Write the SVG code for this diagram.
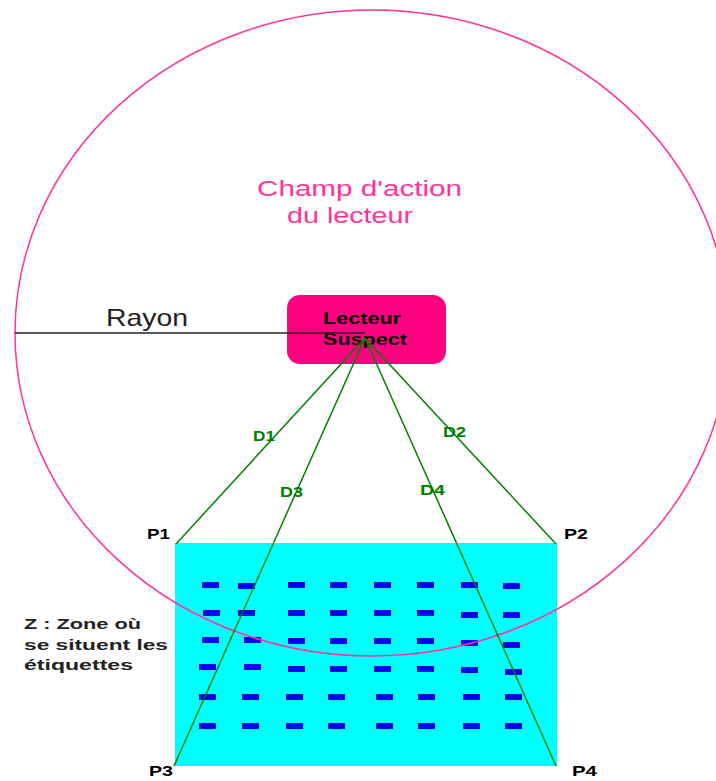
<svg xmlns="http://www.w3.org/2000/svg" width="716" height="781" viewBox="0 0 716 781">
<style>
.t{font-family:"Liberation Sans",Arial,sans-serif}
.pink{fill:#ff3399;font-size:22px}
.ray{fill:#222;font-size:24px}
.lec{fill:#000;font-size:16px;font-weight:bold}
.d{fill:#008000;font-size:15px;font-weight:bold}
.p{fill:#000;font-size:15px;font-weight:bold}
.z{fill:#222;font-size:15px;font-weight:bold}
.dash{fill:#0000ee}
.g{stroke:#008000;stroke-width:1.5;fill:none}
</style>
<defs>
<rect id="dsh" class="dash" width="17" height="6"/>
</defs>
<rect width="716" height="781" fill="#fff"/>
<g id="zone">
<rect x="175" y="543" width="382" height="223" fill="#00ffff"/>
<g id="tags">
<use href="#dsh" x="202" y="582"/><use href="#dsh" x="238" y="583"/><use href="#dsh" x="288" y="582"/><use href="#dsh" x="330" y="582"/><use href="#dsh" x="374" y="582"/><use href="#dsh" x="417" y="582"/><use href="#dsh" x="461" y="582"/><use href="#dsh" x="503" y="583"/>
<use href="#dsh" x="203" y="610"/><use href="#dsh" x="238" y="610"/><use href="#dsh" x="288" y="610"/><use href="#dsh" x="330" y="610"/><use href="#dsh" x="374" y="610"/><use href="#dsh" x="417" y="610"/><use href="#dsh" x="461" y="612"/><use href="#dsh" x="503" y="612"/>
<use href="#dsh" x="202" y="637"/><use href="#dsh" x="244" y="637"/><use href="#dsh" x="288" y="638"/><use href="#dsh" x="330" y="638"/><use href="#dsh" x="374" y="638"/><use href="#dsh" x="417" y="638"/><use href="#dsh" x="461" y="640"/><use href="#dsh" x="503" y="642"/>
<use href="#dsh" x="199" y="664"/><use href="#dsh" x="244" y="664"/><use href="#dsh" x="288" y="666"/><use href="#dsh" x="330" y="666"/><use href="#dsh" x="374" y="666"/><use href="#dsh" x="417" y="666"/><use href="#dsh" x="461" y="667"/><use href="#dsh" x="505" y="669"/>
<use href="#dsh" x="199" y="694"/><use href="#dsh" x="242" y="694"/><use href="#dsh" x="286" y="694"/><use href="#dsh" x="328" y="694"/><use href="#dsh" x="376" y="694"/><use href="#dsh" x="418" y="694"/><use href="#dsh" x="463" y="694"/><use href="#dsh" x="505" y="694"/>
<use href="#dsh" x="199" y="723"/><use href="#dsh" x="242" y="723"/><use href="#dsh" x="286" y="723"/><use href="#dsh" x="328" y="723"/><use href="#dsh" x="376" y="723"/><use href="#dsh" x="418" y="723"/><use href="#dsh" x="463" y="723"/><use href="#dsh" x="505" y="723"/>
</g>
</g>
<g id="champ">
<ellipse cx="372" cy="333" rx="357" ry="323" fill="none" stroke="#ff3399" stroke-width="1.5"/>
<text class="t pink" x="257" y="196" textLength="205" lengthAdjust="spacingAndGlyphs">Champ d'action</text>
<text class="t pink" x="287" y="223" textLength="126" lengthAdjust="spacingAndGlyphs">du lecteur</text>
</g>
<g id="lecteur">
<rect x="287" y="295" width="159" height="69" rx="13" fill="#ff0080"/>
<text class="t lec" x="323" y="324" textLength="78" lengthAdjust="spacingAndGlyphs">Lecteur</text>
<text class="t lec" x="323" y="345" textLength="84" lengthAdjust="spacingAndGlyphs">Suspect</text>
</g>
<g id="connectors">
<line x1="15" y1="333" x2="365" y2="333" stroke="#222" stroke-width="1.3"/>
<line class="g" x1="365" y1="338" x2="176" y2="544"/>
<line class="g" x1="365" y1="338" x2="556" y2="544"/>
<line class="g" x1="365" y1="338" x2="174" y2="766"/>
<line class="g" x1="365" y1="338" x2="556" y2="766"/>
</g>
<g id="labels">
<text class="t ray" x="106" y="326" textLength="82" lengthAdjust="spacingAndGlyphs">Rayon</text>
<text class="t d" x="253" y="441" textLength="22" lengthAdjust="spacingAndGlyphs">D1</text>
<text class="t d" x="443" y="437" textLength="23" lengthAdjust="spacingAndGlyphs">D2</text>
<text class="t d" x="280" y="497" textLength="23" lengthAdjust="spacingAndGlyphs">D3</text>
<text class="t d" x="420" y="495" textLength="25" lengthAdjust="spacingAndGlyphs">D4</text>
<text class="t p" x="147" y="539" textLength="23" lengthAdjust="spacingAndGlyphs">P1</text>
<text class="t p" x="564" y="539" textLength="24" lengthAdjust="spacingAndGlyphs">P2</text>
<text class="t p" x="149" y="776" textLength="24" lengthAdjust="spacingAndGlyphs">P3</text>
<text class="t p" x="572" y="776" textLength="25" lengthAdjust="spacingAndGlyphs">P4</text>
<text class="t z" x="24" y="629" textLength="117" lengthAdjust="spacingAndGlyphs">Z : Zone où</text>
<text class="t z" x="24" y="650" textLength="144" lengthAdjust="spacingAndGlyphs">se situent les</text>
<text class="t z" x="24" y="670" textLength="109" lengthAdjust="spacingAndGlyphs">étiquettes</text>
</g>
</svg>
